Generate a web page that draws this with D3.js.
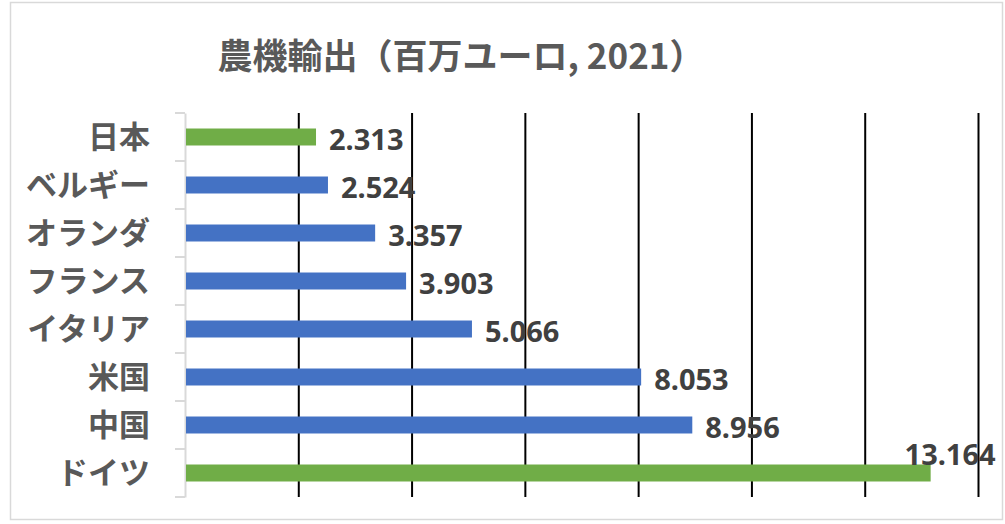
<!DOCTYPE html>
<html>
<head>
<meta charset="utf-8">
<script src="https://cdn.jsdelivr.net/npm/d3@7"></script>
<style>
  body { margin: 0; background: #fff; }
  svg { display: block; }
</style>
</head>
<body>
<svg id="chart" width="1005" height="524"></svg>
<script>
// data (million euro, 2021)
var categories = ["日本", "ベルギー", "オランダ", "フランス", "イタリア", "米国", "中国", "ドイツ"];
var values = [2.313, 2.524, 3.357, 3.903, 5.066, 8.053, 8.956, 13.164];
var highlighted = ["日本", "ドイツ"];
var gridTicks = [2, 4, 6, 8, 10, 12, 14];
var title = "農機輸出（百万ユーロ, 2021）";

var svg = d3.select("#chart"),
    width = +svg.attr("width"),
    height = +svg.attr("height");

var plot = { left: 185, right: 978, top: 113, bottom: 497 };

// chart frame
svg.append("rect")
    .attr("x", 10.5).attr("y", 2.5)
    .attr("width", 992).attr("height", 517)
    .attr("fill", "#fff")
    .attr("stroke", "#d9d9d9")
    .attr("stroke-width", 1.5);

svg.append("text")
    .attr("x", 461).attr("y", 53)
    .attr("text-anchor", "middle")
    .attr("dominant-baseline", "central")
    .attr("fill", "#595959")
    .style("font-family", "'Noto Sans CJK JP', sans-serif")
    .style("font-weight", "bold")
    .style("font-size", "35px")
    .text(title);

var x = d3.scaleLinear()
    .domain([0, 14])
    .range([plot.left, plot.right]);

var y = d3.scaleBand()
    .domain(categories)
    .range([plot.top, plot.bottom])
    .paddingInner(0.646)
    .paddingOuter(0.323);

// vertical gridlines
var grid = svg.append("g")
    .attr("transform", "translate(0," + plot.bottom + ")")
    .call(d3.axisBottom(x).tickValues(gridTicks).tickSize(-(plot.bottom - plot.top)).tickFormat(""));
grid.select(".domain").remove();
grid.selectAll("line").attr("stroke", "#000").attr("stroke-width", 2);

// category axis
var yAxis = svg.append("g")
    .attr("transform", "translate(" + plot.left + ",0)")
    .call(d3.axisLeft(y).tickSize(0).tickPadding(35));
yAxis.select(".domain").attr("stroke", "#d9d9d9").attr("stroke-width", 2);
yAxis.selectAll("text")
    .attr("fill", "#595959")
    .attr("dy", "0.36em")
    .style("font-family", "'Noto Sans CJK JP', sans-serif")
    .style("font-weight", "bold")
    .style("font-size", "31px");

// tick marks between categories
var bounds = d3.range(categories.length + 1).map(function(i) { return plot.top + i * y.step(); });
svg.append("g").selectAll("line")
    .data(bounds)
    .enter().append("line")
      .attr("x1", plot.left - 10).attr("x2", plot.left)
      .attr("y1", function(d) { return d; })
      .attr("y2", function(d) { return d; })
      .attr("stroke", "#d9d9d9")
      .attr("stroke-width", 2);

var data = categories.map(function(c, i) { return { name: c, value: values[i] }; });

svg.append("g").selectAll("rect")
    .data(data)
    .enter().append("rect")
      .attr("x", x(0) + 1)
      .attr("y", function(d) { return y(d.name); })
      .attr("width", function(d) { return x(d.value) - x(0) - 1; })
      .attr("height", y.bandwidth())
      .attr("fill", function(d) { return highlighted.indexOf(d.name) >= 0 ? "#70ad47" : "#4472c4"; });

// value labels; the widest bar gets its label lifted above the bar end
function lifted(d) { return x(d.value) + 130 > plot.right; }

svg.append("g").selectAll("text")
    .data(data)
    .enter().append("text")
      .attr("x", function(d) { return lifted(d) ? x(d.value) + 65 : x(d.value) + 13; })
      .attr("y", function(d) {
        var c = y(d.name) + y.bandwidth() / 2;
        return lifted(d) ? c - 20 : c + 1;
      })
      .attr("text-anchor", function(d) { return lifted(d) ? "end" : "start"; })
      .attr("dominant-baseline", "central")
      .attr("fill", "#404040")
      .style("font-family", "'Noto Sans', sans-serif")
      .style("font-weight", "bold")
      .style("font-size", "29px")
      .text(function(d) { return d3.format(".3f")(d.value); });
</script>
</body>
</html>
